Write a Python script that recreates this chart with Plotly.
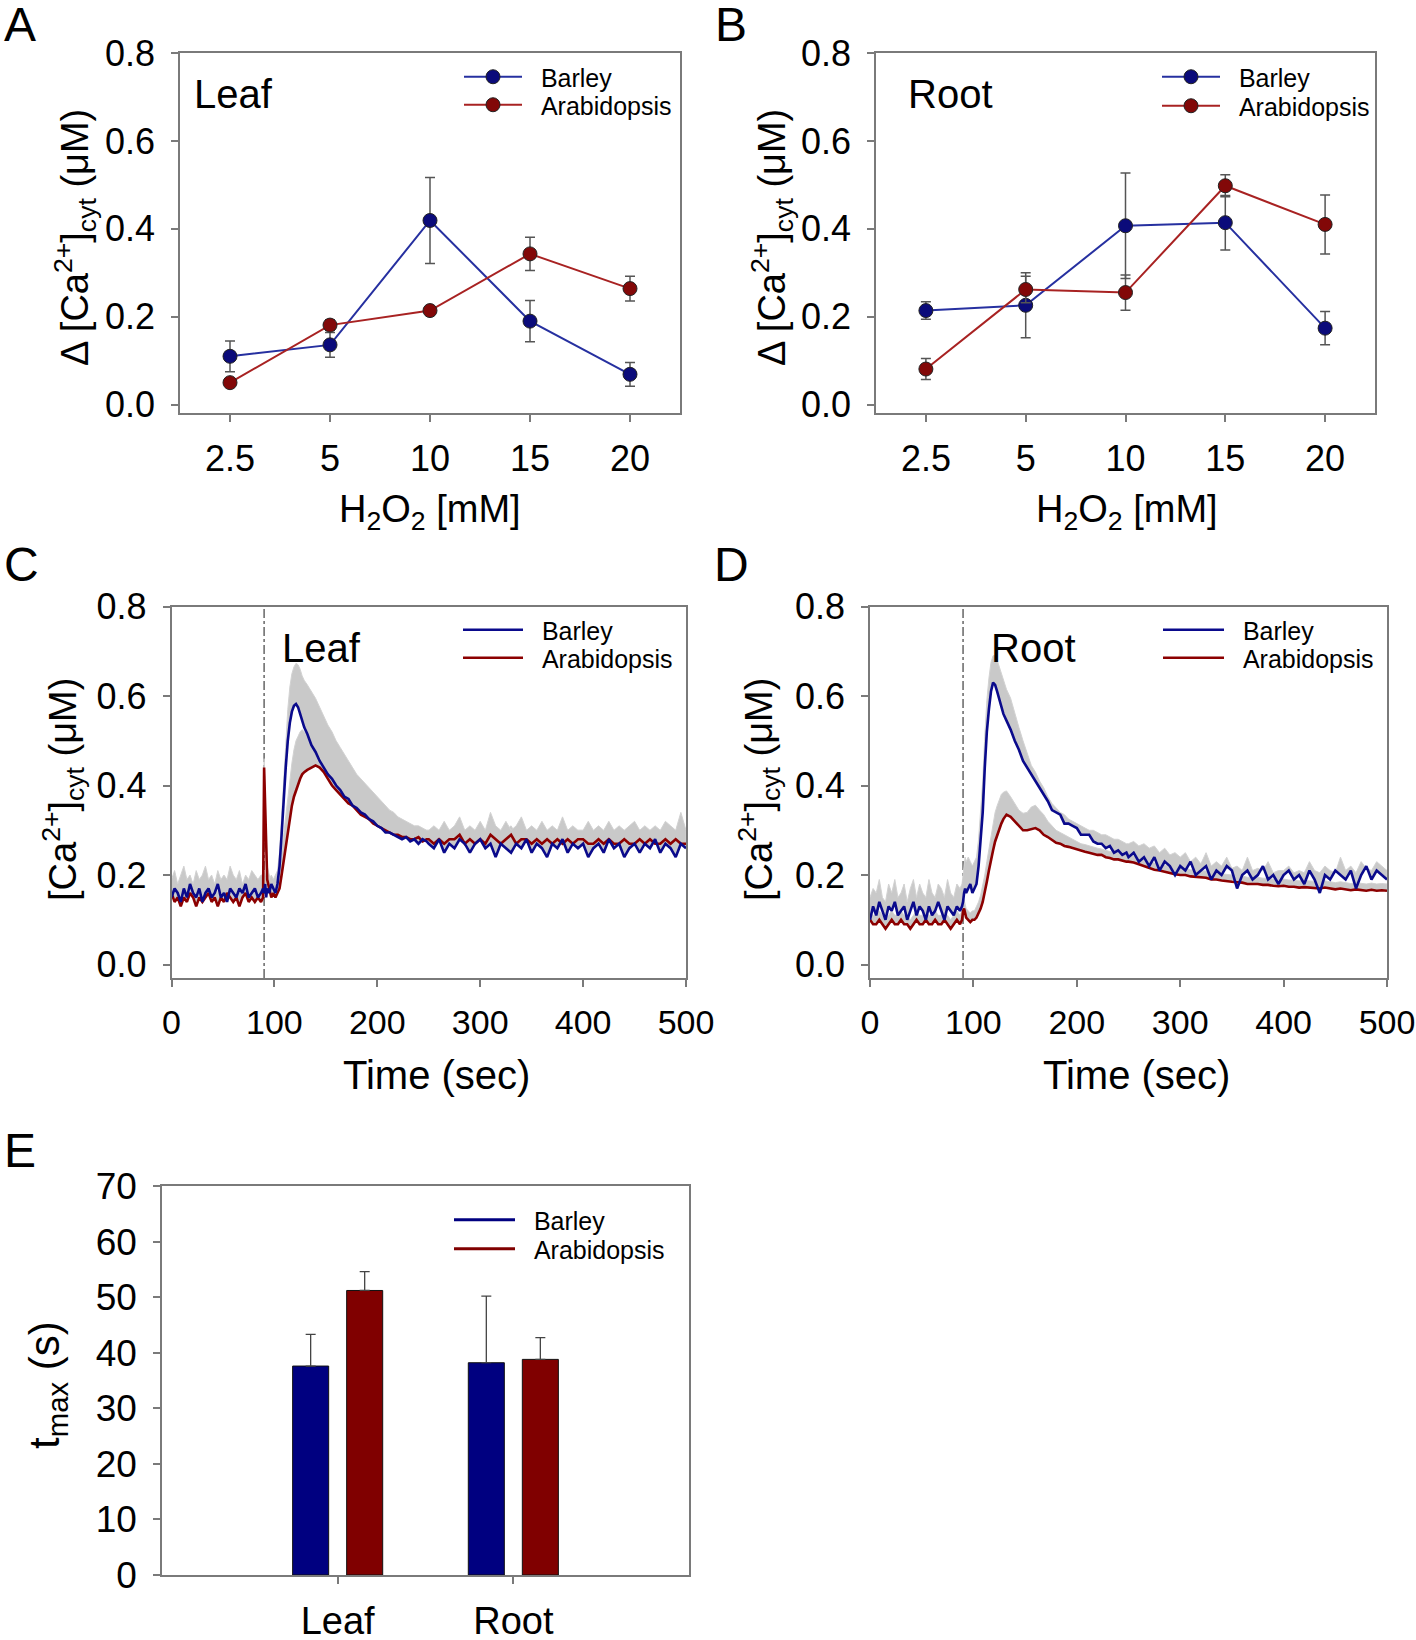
import plotly.graph_objects as go

FONT = "Liberation Sans, Arial, sans-serif"
# the page's body margin is removed in post_script, so the figure fills the window
BODY = 0
W, H = 1416, 1640

# ---------------- Panels A / B: dose response ----------------
conc = ["2.5", "5", "10", "15", "20"]
leaf_barley = [0.110, 0.136, 0.419, 0.190, 0.069]
leaf_barley_err = [0.035, 0.028, 0.098, 0.047, 0.027]
leaf_arab = [0.050, 0.181, 0.214, 0.343, 0.264]
leaf_arab_err = [0.008, 0.012, 0.010, 0.038, 0.028]
root_barley = [0.214, 0.226, 0.407, 0.414, 0.174]
root_barley_err = [0.020, 0.074, 0.120, 0.062, 0.038]
root_arab = [0.081, 0.262, 0.255, 0.498, 0.410]
root_arab_err = [0.024, 0.030, 0.040, 0.025, 0.067]

# ---------------- Panels C / D: time courses ----------------
h2o2_added_t = 90
T = (list(range(0, 88, 3))
     + [89, 90, 91, 92, 93, 95, 97, 99, 101, 103, 105, 107, 109, 111, 113, 115,
        117, 119, 121, 123, 125, 127, 129]
     + list(range(132, 249, 4))
     + list(range(250, 501, 5)))

leaf_barley_t = [
    0.15, 0.17, 0.16, 0.14, 0.17, 0.15, 0.18, 0.16, 0.15, 0.17, 0.14, 0.16, 0.17, 0.15, 0.16,
    0.18, 0.15, 0.16, 0.14, 0.17, 0.16, 0.15, 0.17, 0.16, 0.18, 0.15, 0.16, 0.17, 0.15, 0.16,
    0.17, 0.16, 0.18, 0.15, 0.17, 0.16, 0.18, 0.17, 0.16, 0.18, 0.22, 0.29, 0.37, 0.44, 0.50,
    0.54, 0.565, 0.578, 0.582, 0.575, 0.56, 0.545, 0.53,
    0.515, 0.49, 0.475, 0.455, 0.44, 0.425, 0.415, 0.40, 0.39, 0.375, 0.37, 0.355, 0.35, 0.34,
    0.335, 0.325, 0.32, 0.31, 0.305, 0.295, 0.295, 0.29, 0.285, 0.28, 0.285, 0.275, 0.28, 0.27,
    0.28, 0.275,
    0.27, 0.26, 0.28, 0.25, 0.27, 0.26, 0.28, 0.27, 0.25, 0.27,
    0.28, 0.26, 0.27, 0.24, 0.27, 0.26, 0.25, 0.27, 0.26, 0.28,
    0.25, 0.27, 0.26, 0.24, 0.27, 0.26, 0.28, 0.25, 0.27, 0.26,
    0.27, 0.24, 0.26, 0.27, 0.25, 0.28, 0.26, 0.27, 0.24, 0.26,
    0.27, 0.25, 0.27, 0.26, 0.28, 0.25, 0.27, 0.26, 0.24, 0.27,
    0.26]
leaf_barley_upper = [
    0.19, 0.21, 0.18, 0.20, 0.22, 0.19, 0.20, 0.18, 0.21, 0.19, 0.20, 0.22, 0.19, 0.20, 0.18,
    0.21, 0.19, 0.20, 0.19, 0.22, 0.20, 0.19, 0.21, 0.18, 0.20, 0.19, 0.21, 0.20, 0.19, 0.20,
    0.20, 0.21, 0.20, 0.19, 0.20, 0.19, 0.20, 0.19, 0.20, 0.21, 0.25, 0.33, 0.42, 0.50, 0.57,
    0.62, 0.65, 0.665, 0.673, 0.67, 0.66, 0.645, 0.635,
    0.625, 0.61, 0.595, 0.575, 0.555, 0.535, 0.52, 0.50, 0.485, 0.47, 0.455, 0.44, 0.425, 0.415,
    0.405, 0.395, 0.385, 0.375, 0.365, 0.355, 0.345, 0.34, 0.33, 0.325, 0.32, 0.315, 0.31, 0.31,
    0.305, 0.30,
    0.30, 0.31, 0.30, 0.32, 0.30, 0.31, 0.33, 0.30, 0.31, 0.30,
    0.32, 0.30, 0.34, 0.31, 0.30, 0.32, 0.30, 0.31, 0.33, 0.30,
    0.31, 0.30, 0.32, 0.30, 0.31, 0.30, 0.33, 0.30, 0.31, 0.30,
    0.30, 0.32, 0.30, 0.31, 0.30, 0.32, 0.30, 0.31, 0.30, 0.31,
    0.32, 0.30, 0.31, 0.30, 0.31, 0.30, 0.32, 0.31, 0.30, 0.34,
    0.30]
leaf_arab_t = [
    0.16, 0.14, 0.15, 0.13, 0.15, 0.14, 0.16, 0.15, 0.13, 0.15, 0.14, 0.15, 0.16, 0.14, 0.15,
    0.13, 0.15, 0.14, 0.16, 0.15, 0.14, 0.15, 0.13, 0.15, 0.16, 0.14, 0.15, 0.14, 0.15, 0.14,
    0.15, 0.44, 0.35, 0.25, 0.19, 0.17, 0.15, 0.16, 0.15, 0.16, 0.17, 0.20, 0.23, 0.27, 0.30,
    0.33, 0.355, 0.375, 0.39, 0.405, 0.415, 0.425, 0.43,
    0.435, 0.44, 0.445, 0.44, 0.43, 0.415, 0.40, 0.39, 0.38, 0.37, 0.36, 0.355, 0.345, 0.335,
    0.33, 0.325, 0.315, 0.31, 0.305, 0.30, 0.295, 0.29, 0.29, 0.285, 0.285, 0.28, 0.28, 0.285,
    0.275, 0.28,
    0.28, 0.27, 0.28, 0.27, 0.28, 0.28, 0.29, 0.27, 0.28, 0.27,
    0.28, 0.27, 0.29, 0.28, 0.27, 0.28, 0.29, 0.27, 0.28, 0.28,
    0.27, 0.28, 0.27, 0.28, 0.27, 0.28, 0.27, 0.28, 0.27, 0.28,
    0.28, 0.27, 0.27, 0.28, 0.27, 0.28, 0.27, 0.27, 0.28, 0.27,
    0.27, 0.28, 0.27, 0.28, 0.27, 0.27, 0.28, 0.27, 0.28, 0.27,
    0.27]
leaf_arab_upper = [
    0.19, 0.17, 0.18, 0.16, 0.18, 0.17, 0.19, 0.18, 0.16, 0.18, 0.17, 0.18, 0.19, 0.17, 0.18,
    0.16, 0.18, 0.17, 0.19, 0.18, 0.17, 0.18, 0.16, 0.18, 0.19, 0.17, 0.18, 0.17, 0.18, 0.17,
    0.18, 0.46, 0.38, 0.28, 0.22, 0.20, 0.18, 0.19, 0.18, 0.19, 0.21, 0.25, 0.29, 0.34, 0.38,
    0.42, 0.45, 0.48, 0.50, 0.51, 0.52, 0.525, 0.52,
    0.51, 0.50, 0.49, 0.48, 0.465, 0.45, 0.435, 0.42, 0.41, 0.40, 0.39, 0.38, 0.37, 0.36,
    0.355, 0.35, 0.34, 0.335, 0.33, 0.325, 0.32, 0.315, 0.31, 0.31, 0.305, 0.305, 0.30, 0.305,
    0.30, 0.30,
    0.30, 0.29, 0.30, 0.29, 0.30, 0.30, 0.31, 0.29, 0.30, 0.29,
    0.30, 0.29, 0.31, 0.30, 0.29, 0.30, 0.31, 0.29, 0.30, 0.30,
    0.29, 0.30, 0.29, 0.30, 0.29, 0.30, 0.29, 0.30, 0.29, 0.30,
    0.30, 0.29, 0.29, 0.30, 0.29, 0.30, 0.29, 0.29, 0.30, 0.29,
    0.29, 0.30, 0.29, 0.30, 0.29, 0.29, 0.30, 0.29, 0.30, 0.29,
    0.29]

root_barley_t = [
    0.10, 0.13, 0.11, 0.14, 0.12, 0.10, 0.13, 0.12, 0.14, 0.11, 0.12, 0.13, 0.10, 0.12, 0.14,
    0.11, 0.13, 0.12, 0.10, 0.13, 0.11, 0.12, 0.14, 0.12, 0.10, 0.13, 0.12, 0.11, 0.13, 0.12,
    0.13, 0.14, 0.16, 0.17, 0.16, 0.17, 0.18, 0.16, 0.17, 0.18, 0.22, 0.28, 0.34, 0.44, 0.52,
    0.57, 0.61, 0.63, 0.625, 0.61, 0.595, 0.58, 0.56,
    0.545, 0.525, 0.50, 0.48, 0.455, 0.44, 0.425, 0.41, 0.395, 0.38, 0.365, 0.345, 0.34, 0.335,
    0.315, 0.315, 0.31, 0.305, 0.29, 0.29, 0.29, 0.275, 0.27, 0.27, 0.26, 0.265, 0.25, 0.255,
    0.245, 0.25,
    0.24, 0.25, 0.23, 0.24, 0.22, 0.24, 0.21, 0.23, 0.22, 0.20,
    0.22, 0.21, 0.23, 0.20, 0.21, 0.22, 0.19, 0.21, 0.20, 0.22,
    0.21, 0.17, 0.20, 0.21, 0.19, 0.20, 0.22, 0.19, 0.20, 0.18,
    0.20, 0.21, 0.19, 0.20, 0.18, 0.21, 0.19, 0.16, 0.20, 0.19,
    0.21, 0.20, 0.19, 0.21, 0.17, 0.20, 0.22, 0.19, 0.21, 0.20,
    0.19]
root_barley_upper = [
    0.15, 0.17, 0.16, 0.19, 0.15, 0.14, 0.18, 0.16, 0.19, 0.15, 0.16, 0.18, 0.14, 0.17, 0.19,
    0.15, 0.18, 0.16, 0.15, 0.19, 0.16, 0.15, 0.18, 0.17, 0.15, 0.19, 0.16, 0.15, 0.18, 0.17,
    0.18, 0.20, 0.22, 0.24, 0.23, 0.24, 0.23, 0.22, 0.23, 0.24, 0.28, 0.34, 0.41, 0.51, 0.59,
    0.64, 0.675, 0.69, 0.69, 0.68, 0.665, 0.65, 0.635,
    0.615, 0.595, 0.56, 0.53, 0.50, 0.47, 0.445, 0.43, 0.41, 0.395, 0.375, 0.36, 0.35, 0.34,
    0.335, 0.325, 0.32, 0.315, 0.31, 0.305, 0.30, 0.30, 0.295, 0.29, 0.29, 0.285, 0.28, 0.28,
    0.275, 0.27,
    0.27, 0.275, 0.265, 0.27, 0.26, 0.265, 0.25, 0.26, 0.245, 0.25,
    0.24, 0.25, 0.23, 0.24, 0.225, 0.25, 0.22, 0.23, 0.22, 0.24,
    0.215, 0.22, 0.21, 0.24, 0.21, 0.215, 0.21, 0.23, 0.205, 0.21,
    0.21, 0.22, 0.205, 0.21, 0.205, 0.23, 0.21, 0.205, 0.22, 0.21,
    0.205, 0.24, 0.21, 0.22, 0.205, 0.23, 0.215, 0.21, 0.23, 0.22,
    0.21]
root_arab_t = [
    0.10, 0.09, 0.09, 0.10, 0.09, 0.08, 0.09, 0.10, 0.09, 0.09, 0.10, 0.09, 0.09, 0.08, 0.09,
    0.10, 0.09, 0.09, 0.10, 0.09, 0.09, 0.10, 0.09, 0.09, 0.10, 0.09, 0.08, 0.09, 0.10, 0.09,
    0.10, 0.12, 0.125, 0.115, 0.105, 0.10, 0.095, 0.10, 0.10, 0.105, 0.115, 0.125, 0.14, 0.16,
    0.185, 0.21, 0.235, 0.255, 0.275, 0.29, 0.30, 0.315, 0.325,
    0.335, 0.33, 0.32, 0.31, 0.30, 0.30, 0.302, 0.305, 0.30, 0.29, 0.285, 0.278, 0.272, 0.27,
    0.265, 0.263, 0.26, 0.258, 0.255, 0.252, 0.25, 0.248, 0.245, 0.245, 0.24, 0.238, 0.235,
    0.235, 0.232, 0.23,
    0.23, 0.228, 0.224, 0.22, 0.215, 0.212, 0.21, 0.207, 0.205, 0.202,
    0.20, 0.20, 0.197, 0.196, 0.195, 0.194, 0.19, 0.19, 0.188, 0.186,
    0.185, 0.184, 0.183, 0.18, 0.18, 0.18, 0.178, 0.178, 0.176, 0.175,
    0.176, 0.174, 0.174, 0.172, 0.173, 0.172, 0.17, 0.17, 0.172, 0.17,
    0.168, 0.17, 0.168, 0.166, 0.168, 0.166, 0.165, 0.167, 0.165, 0.166,
    0.165]
root_arab_upper = [
    0.12, 0.11, 0.11, 0.12, 0.11, 0.10, 0.11, 0.12, 0.11, 0.11, 0.12, 0.11, 0.11, 0.10, 0.11,
    0.12, 0.11, 0.11, 0.12, 0.11, 0.11, 0.12, 0.11, 0.11, 0.12, 0.11, 0.10, 0.11, 0.12, 0.11,
    0.12, 0.14, 0.145, 0.135, 0.125, 0.12, 0.115, 0.12, 0.12, 0.13, 0.14, 0.155, 0.175, 0.20,
    0.23, 0.26, 0.29, 0.315, 0.34, 0.355, 0.37, 0.38, 0.385,
    0.388, 0.375, 0.36, 0.345, 0.338, 0.34, 0.352, 0.356, 0.345, 0.335, 0.32, 0.31, 0.30, 0.295,
    0.29, 0.285, 0.28, 0.275, 0.27, 0.268, 0.265, 0.262, 0.26, 0.258, 0.255, 0.252, 0.25, 0.25,
    0.247, 0.245,
    0.245, 0.243, 0.239, 0.235, 0.23, 0.227, 0.225, 0.222, 0.22, 0.217,
    0.215, 0.215, 0.212, 0.211, 0.21, 0.209, 0.205, 0.205, 0.203, 0.201,
    0.20, 0.199, 0.198, 0.195, 0.195, 0.195, 0.193, 0.193, 0.191, 0.19,
    0.191, 0.189, 0.189, 0.187, 0.188, 0.187, 0.185, 0.185, 0.187, 0.185,
    0.183, 0.185, 0.183, 0.181, 0.183, 0.181, 0.18, 0.182, 0.18, 0.181,
    0.18]

for arr in (leaf_barley_t, leaf_barley_upper, leaf_arab_t, leaf_arab_upper,
            root_barley_t, root_barley_upper, root_arab_t, root_arab_upper):
    assert len(arr) == len(T), (len(arr), len(T))

# ---------------- Panel E: time to maximum ----------------
organs = ["Leaf", "Root"]
tmax_barley = [37.6, 38.2]
tmax_barley_err = [5.7, 12.0]
tmax_arab = [51.2, 38.8]
tmax_arab_err = [3.4, 3.9]

# ---------------- styling ----------------
BLUE_LINE = "#2630a0"
BLUE_MK = "#0b0b7a"
RED_LINE = "#a82222"
RED_MK = "#820808"
NAVY = "#0a0a8c"
MAROON = "#8c0000"
GRAY_FILL = "#c9c9c9"
AXC = "#7a7a7a"
PAD = "\u00a0\u00a0"


def P(xp, yp):
    """window pixel -> paper coords"""
    return (xp - BODY) / W, 1 - (yp - BODY) / H


def dom_x(left, right):
    return [P(left, 0)[0], P(right, 0)[0]]


def dom_y(top, bottom):
    return [P(0, bottom)[1], P(0, top)[1]]


fig = go.Figure()

# A / B
for vals, errs, name, lc, mc, xa, ya, lg in [
    (leaf_barley, leaf_barley_err, "Barley", BLUE_LINE, BLUE_MK, "x", "y", "legend"),
    (leaf_arab, leaf_arab_err, "Arabidopsis", RED_LINE, RED_MK, "x", "y", "legend6"),
    (root_barley, root_barley_err, "Barley", BLUE_LINE, BLUE_MK, "x2", "y2", "legend2"),
    (root_arab, root_arab_err, "Arabidopsis", RED_LINE, RED_MK, "x2", "y2", "legend7"),
]:
    fig.add_trace(go.Scatter(
        x=conc, y=vals, name=PAD + name, mode="lines+markers",
        error_y=dict(type="data", array=errs, color="#555555", thickness=1.5, width=5),
        line=dict(color=lc, width=2),
        marker=dict(size=14, color=mc, line=dict(color="#222222", width=1)),
        xaxis=xa, yaxis=ya, legend=lg))

# C / D : SD bands
for mean, upper, xa, ya in [
    (leaf_arab_t, leaf_arab_upper, "x3", "y3"),
    (leaf_barley_t, leaf_barley_upper, "x3", "y3"),
    (root_arab_t, root_arab_upper, "x4", "y4"),
    (root_barley_t, root_barley_upper, "x4", "y4"),
]:
    fig.add_trace(go.Scatter(
        x=T + T[::-1], y=upper + mean[::-1], fill="toself", fillcolor=GRAY_FILL,
        mode="lines", line=dict(color="#d2d2d2", width=1), showlegend=False,
        hoverinfo="skip", xaxis=xa, yaxis=ya))
# C / D : mean traces
for mean, name, col, xa, ya, lg in [
    (leaf_arab_t, "Arabidopsis", MAROON, "x3", "y3", "legend8"),
    (leaf_barley_t, "Barley", NAVY, "x3", "y3", "legend3"),
    (root_arab_t, "Arabidopsis", MAROON, "x4", "y4", "legend9"),
    (root_barley_t, "Barley", NAVY, "x4", "y4", "legend4"),
]:
    fig.add_trace(go.Scatter(
        x=T, y=mean, name=PAD + name, mode="lines", line=dict(color=col, width=2.6),
        xaxis=xa, yaxis=ya, legend=lg))

# E
for vals, errs, name, col, lg in [
    (tmax_barley, tmax_barley_err, "Barley", "#000080", "legend5"),
    (tmax_arab, tmax_arab_err, "Arabidopsis", "#800000", "legend10"),
]:
    fig.add_trace(go.Bar(
        x=organs, y=vals, name=name, marker=dict(color=col, line=dict(color="#111111", width=1)),
        error_y=dict(type="data", symmetric=False, array=errs, arrayminus=[0, 0],
                     color="#444444", thickness=1.3, width=5),
        showlegend=False, xaxis="x5", yaxis="y5"))
    fig.add_trace(go.Scatter(
        x=[None], y=[None], name=PAD + name, mode="lines", line=dict(color=col, width=3),
        xaxis="x5", yaxis="y5", legend=lg))


def axis(domain, anchor, **kw):
    d = dict(domain=domain, anchor=anchor, showline=True, linecolor=AXC, linewidth=1.5,
             mirror=True, ticks="outside", ticklen=7, tickwidth=1.5, tickcolor=AXC,
             showgrid=False, zeroline=False, automargin=False, ticklabeloverflow="allow",
             tickfont=dict(family=FONT, size=36, color="black"))
    d.update(kw)
    return d


yA = dom_y(53, 413)
yC = dom_y(606.5, 978)
yE = dom_y(1186, 1575)
cat_kw = dict(type="category", categoryorder="array", categoryarray=conc,
              range=[-0.5, 4.5], ticklabelstandoff=6)
ydose_kw = dict(range=[-0.019, 0.8], tickvals=[0, 0.2, 0.4, 0.6, 0.8], tickformat=".1f",
                ticklabelstandoff=9)
ytime_kw = dict(range=[-0.03, 0.8], tickvals=[0, 0.2, 0.4, 0.6, 0.8], tickformat=".1f",
                ticklabelstandoff=9)
xtime_kw = dict(range=[0, 500], tickvals=[0, 100, 200, 300, 400, 500], ticklabelstandoff=6,
                tickfont=dict(family=FONT, size=34, color="black"))

legend_common = dict(xanchor="left", yanchor="top", bgcolor="rgba(0,0,0,0)",
                     font=dict(family=FONT, size=25, color="black"),
                     tracegroupgap=0, borderwidth=0)


def leg(xp, yp, iw):
    x, y = P(xp, yp)
    d = dict(legend_common)
    d.update(x=x, y=y, itemwidth=iw)
    return d


annotations = []


def ann(text, xp, yp, size, xanchor="center", yanchor="middle", angle=0):
    x, y = P(xp, yp)
    annotations.append(dict(text=text, x=x, y=y, xref="paper", yref="paper",
                            xanchor=xanchor, yanchor=yanchor, textangle=angle,
                            showarrow=False, font=dict(family=FONT, size=size, color="black")))


for letter, xp, yp in [("A", 20, 24), ("B", 731, 24), ("C", 21, 564), ("D", 732, 564),
                       ("E", 20, 1150)]:
    ann(letter, xp, yp, 48)

ann("Leaf", 192, 94, 40, xanchor="left")
ann("Root", 906, 94, 40, xanchor="left")
ann("Leaf", 280, 648, 40, xanchor="left")
ann("Root", 989, 648, 40, xanchor="left")

h2 = "H<sub>2</sub>O<sub>2</sub> [mM]"
ann(h2, 430, 512, 38)
ann(h2, 1127, 512, 38)
dca = "Δ [Ca<sup>2+</sup>]<sub>cyt</sub> (μM)"
ann(dca, 75, 238, 38, angle=-90)
ann(dca, 772, 238, 38, angle=-90)
ann("Time (sec)", 436, 1075, 40)
ann("Time (sec)", 1136, 1075, 40)
ca = "[Ca<sup>2+</sup>]<sub>cyt</sub> (μM)"
ann(ca, 63, 790, 38, angle=-90)
ann(ca, 759, 790, 38, angle=-90)
ann("t<sub>max</sub> (s)", 47, 1385, 42, angle=-90)

shapes = [
    dict(type="line", xref="x3", yref="y3 domain", x0=h2o2_added_t, x1=h2o2_added_t, y0=0, y1=1,
         line=dict(color="#666666", width=1.5, dash="dashdot"), layer="below"),
    dict(type="line", xref="x4", yref="y4 domain", x0=h2o2_added_t, x1=h2o2_added_t, y0=0, y1=1,
         line=dict(color="#666666", width=1.5, dash="dashdot"), layer="below"),
]

fig.update_layout(
    width=W, height=H, margin=dict(l=0, r=0, t=0, b=0, autoexpand=False),
    paper_bgcolor="white", plot_bgcolor="white",
    font=dict(family=FONT, color="black"),
    barmode="group", bargap=0.385, bargroupgap=0.333,
    xaxis=axis(dom_x(180, 680), "y", **cat_kw),
    yaxis=axis(yA, "x", **ydose_kw),
    xaxis2=axis(dom_x(876, 1375), "y2", **cat_kw),
    yaxis2=axis(yA, "x2", **ydose_kw),
    xaxis3=axis(dom_x(171.5, 686), "y3", **xtime_kw),
    yaxis3=axis(yC, "x3", **ytime_kw),
    xaxis4=axis(dom_x(870, 1387), "y4", **xtime_kw),
    yaxis4=axis(yC, "x4", **ytime_kw),
    xaxis5=axis(dom_x(162, 689), "y5", type="category", categoryorder="array",
                categoryarray=organs, range=[-1, 2], ticklabelstandoff=5,
                tickfont=dict(family=FONT, size=38, color="black")),
    yaxis5=axis(yE, "x5", range=[0, 70], tickvals=list(range(0, 71, 10)),
                ticklabelstandoff=9, tickfont=dict(family=FONT, size=37, color="black")),
    legend=leg(459, 54, 58),
    legend6=leg(459, 82, 58),
    legend2=leg(1157, 54, 58),
    legend7=leg(1157, 83, 58),
    legend3=leg(458, 607, 60),
    legend8=leg(458, 635, 60),
    legend4=leg(1158, 607, 61),
    legend9=leg(1158, 635, 61),
    legend5=leg(449, 1197, 61),
    legend10=leg(449, 1226, 61),
    annotations=annotations,
    shapes=shapes,
)

fig.write_html(
    "out.html",
    config={"displayModeBar": False},
    post_script="document.body.style.margin='0';document.body.style.overflow='hidden';",
)
